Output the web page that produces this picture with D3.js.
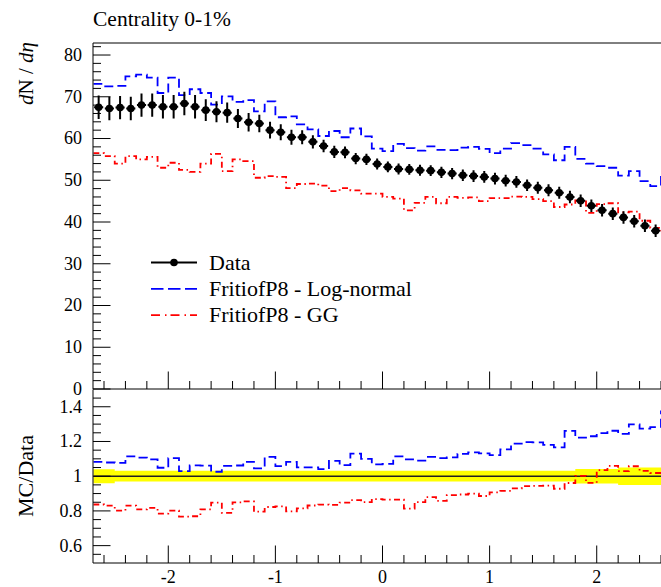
<!DOCTYPE html>
<html><head><meta charset="utf-8">
<script src="https://cdn.jsdelivr.net/npm/d3@7"></script>
<style>body{margin:0;background:#fff}svg{display:block}</style>
</head><body>
<svg id="c" width="661" height="587"></svg>
<script>
// ---- data ----
const eta = [-2.65,-2.55,-2.45,-2.35,-2.25,-2.15,-2.05,-1.95,-1.85,-1.75,-1.65,-1.55,-1.45,-1.35,-1.25,-1.15,-1.05,-0.95,
  -0.85,-0.75,-0.65,-0.55,-0.45,-0.35,-0.25,-0.15,-0.05,0.05,0.15,0.25,0.35,0.45,0.55,0.65,0.75,0.85,
  0.95,1.05,1.15,1.25,1.35,1.45,1.55,1.65,1.75,1.85,1.95,2.05,2.15,2.25,2.35,2.45,2.55,2.65];
const binHalfWidth = 0.05;
const dataVals = [67.5,67.2,67.4,67.2,68.0,68.0,67.6,67.6,68.4,67.6,66.8,66.4,66.2,64.8,63.9,63.6,62.0,61.5,
  60.3,60.3,59.2,58.2,56.8,56.7,55.2,55.0,53.9,53.2,52.7,52.6,52.4,52.3,51.9,51.6,51.2,51.0,
  50.8,50.4,49.9,49.6,48.8,48.2,47.6,47.0,46.0,45.1,43.9,42.8,42.0,41.1,40.2,39.1,37.9,37.0];
const dataErr = [2.8,2.8,2.8,2.8,2.8,2.8,2.8,2.8,2.8,2.8,2.6,2.5,2.4,2.3,2.2,2.1,2.0,1.9,
  1.8,1.7,1.6,1.5,1.45,1.4,1.35,1.35,1.3,1.3,1.3,1.3,1.3,1.3,1.35,1.35,1.4,1.4,
  1.4,1.4,1.4,1.4,1.4,1.45,1.45,1.45,1.5,1.5,1.5,1.5,1.5,1.5,1.5,1.5,1.5,1.5];
const bandRelErr = [0.04,0.04,0.031,0.031,0.031,0.031,0.031,0.031,0.031,0.031,0.031,0.031,0.031,0.031,0.031,0.031,0.031,0.031,
  0.031,0.031,0.031,0.031,0.031,0.031,0.031,0.031,0.031,0.031,0.031,0.031,0.031,0.031,0.031,0.031,0.031,0.031,
  0.031,0.031,0.031,0.031,0.031,0.031,0.031,0.031,0.031,0.042,0.042,0.042,0.042,0.05,0.05,0.05,0.05,0.05];
const logNormal = [73.1,72.5,72.6,74.9,75.3,74.6,70.9,74.6,70.4,71.8,70.9,68.1,70.1,68.8,69.2,66.5,68.9,65.1,
  65.3,63.4,62.2,60.6,61.8,60.3,62.4,60.5,57.6,57.0,58.7,57.7,57.1,58.1,57.3,57.2,57.8,58.0,
  57.5,56.5,57.6,58.9,58.4,57.6,56.2,54.8,58.0,55.1,54.0,53.4,53.0,51.1,52.2,49.8,48.6,50.8];
const gg = [56.5,55.8,54.0,55.8,55.0,55.6,53.0,54.2,52.5,52.0,54.0,56.3,52.2,55.0,54.6,50.6,51.0,50.8,
  48.1,49.1,49.2,48.7,47.4,48.1,47.6,46.8,46.8,46.0,45.6,42.8,44.6,46.0,44.5,46.0,45.8,45.9,
  45.0,45.7,45.7,46.1,46.0,45.5,45.0,43.6,44.2,45.2,42.2,44.3,44.5,42.3,42.5,40.3,38.6,38.0];
const xTicks = [-2,-1,0,1,2];
const mainYTicks = [0,10,20,30,40,50,60,70,80];
const ratioYTicks = [0.6,0.8,1,1.2,1.4];
const ratioYLabels = ["0.6","0.8","1","1.2","1.4"];
const legendLabels = ["Data","FritiofP8 - Log-normal","FritiofP8 - GG"];
const title = "Centrality 0-1%";

// ---- setup ----
const svg = d3.select('#c');
const font = "'Liberation Serif','Times New Roman',serif";
const x = d3.scaleLinear().domain([-2.7,2.7]).range([93.3,671.7]);
const yM = d3.scaleLinear().domain([0,82.88]).range([389,43]);
const yR = d3.scaleLinear().domain([0.5,1.5]).range([563,389.4]);
const blue = "#0000ff", red = "#ff0000";
const mcDash = "9,4.5", ggDash = "6,3.5,1.5,3.5";

const defs = svg.append('defs');
defs.append('clipPath').attr('id','cm').append('rect')
  .attr('x',x(-2.7)).attr('y',yM(82.88)).attr('width',x(2.7)-x(-2.7)).attr('height',yM(0)-yM(82.88));
defs.append('clipPath').attr('id','cr').append('rect')
  .attr('x',x(-2.7)).attr('y',yR(1.5)).attr('width',x(2.7)-x(-2.7)).attr('height',yR(0.5)-yR(1.5));

function stepPts(vals){
  const pts = eta.map((e,i)=>[e-binHalfWidth, vals[i]]);
  pts.push([eta[eta.length-1]+binHalfWidth, vals[vals.length-1]]);
  return pts;
}
function stepLine(ys){ return d3.line().x(d=>x(d[0])).y(d=>ys(d[1])).curve(d3.curveStepAfter); }

// ---- ratio panel ----
const gR = svg.append('g').attr('clip-path','url(#cr)');
const bandPts = eta.map((e,i)=>[e-binHalfWidth, bandRelErr[i]]);
bandPts.push([eta[eta.length-1]+binHalfWidth, bandRelErr[bandRelErr.length-1]]);
gR.append('path')
  .attr('d', d3.area().x(d=>x(d[0])).y0(d=>yR(1-d[1])).y1(d=>yR(1+d[1])).curve(d3.curveStepAfter)(bandPts))
  .attr('fill','#ffff00');
gR.append('line').attr('x1',x(-2.7)).attr('x2',x(2.7)).attr('y1',yR(1)).attr('y2',yR(1))
  .attr('stroke','#222').attr('stroke-width',1.6);
const ratioLN = logNormal.map((v,i)=>v/dataVals[i]);
const ratioGG = gg.map((v,i)=>v/dataVals[i]);
gR.append('path').attr('d',stepLine(yR)(stepPts(ratioLN))).attr('fill','none')
  .attr('stroke',blue).attr('stroke-width',1.8).attr('stroke-dasharray',mcDash);
gR.append('path').attr('d',stepLine(yR)(stepPts(ratioGG))).attr('fill','none')
  .attr('stroke',red).attr('stroke-width',1.8).attr('stroke-dasharray',ggDash);

// ---- main panel ----
const gM = svg.append('g').attr('clip-path','url(#cm)');
gM.append('path').attr('d',stepLine(yM)(stepPts(logNormal))).attr('fill','none')
  .attr('stroke',blue).attr('stroke-width',1.8).attr('stroke-dasharray',mcDash);
gM.append('path').attr('d',stepLine(yM)(stepPts(gg))).attr('fill','none')
  .attr('stroke',red).attr('stroke-width',1.8).attr('stroke-dasharray',ggDash);
const pts = gM.append('g').selectAll('g').data(eta.map((e,i)=>({e, v:dataVals[i], err:dataErr[i]}))).join('g');
pts.append('line').attr('x1',d=>x(d.e-binHalfWidth)+0.8).attr('x2',d=>x(d.e+binHalfWidth)-0.8)
  .attr('y1',d=>yM(d.v)).attr('y2',d=>yM(d.v)).attr('stroke','#000').attr('stroke-width',2);
pts.append('line').attr('x1',d=>x(d.e)).attr('x2',d=>x(d.e))
  .attr('y1',d=>yM(d.v-d.err)).attr('y2',d=>yM(d.v+d.err)).attr('stroke','#000').attr('stroke-width',2);
pts.append('circle').attr('cx',d=>x(d.e)).attr('cy',d=>yM(d.v)).attr('r',3.8).attr('fill','#000');

// ---- frames & ticks ----
const frame = svg.append('g').attr('stroke','#000').attr('stroke-width',1).attr('fill','none');
const L = 93, R = 672;
frame.append('path').attr('d',`M${L},${yM(0)}V43H${R}`);
frame.append('path').attr('d',`M${L},${yR(1.5)}V563H${R}`);
frame.append('line').attr('x1',L).attr('x2',R).attr('y1',389).attr('y2',389);

const tk = svg.append('g').attr('stroke','#000').attr('stroke-width',1);
const xMinor = d3.range(-2.6, 2.7, 0.2).map(v=>+v.toFixed(2)).filter(v=>!xTicks.some(t=>Math.abs(t-v)<1e-6));
[389,563].forEach(yb=>{
  xTicks.forEach(t=>tk.append('line').attr('x1',x(t)).attr('x2',x(t)).attr('y1',yb).attr('y2',yb-17.5));
  xMinor.forEach(t=>tk.append('line').attr('x1',x(t)).attr('x2',x(t)).attr('y1',yb).attr('y2',yb-8));
});
d3.range(0, 83, 2).forEach(v=>{
  const major = v%10===0;
  tk.append('line').attr('x1',L).attr('x2',L+(major?17.5:8)).attr('y1',yM(v)).attr('y2',yM(v));
});
d3.range(0.55, 1.5, 0.05).map(v=>+v.toFixed(2)).forEach(v=>{
  const major = ratioYTicks.some(t=>Math.abs(t-v)<1e-6);
  tk.append('line').attr('x1',L).attr('x2',L+(major?17.5:8)).attr('y1',yR(v)).attr('y2',yR(v));
});

// ---- labels ----
const txt = svg.append('g').attr('font-family',font).attr('fill','#000');
mainYTicks.forEach(t=>txt.append('text').attr('x',82).attr('y',yM(t)).attr('dy','0.33em')
  .attr('text-anchor','end').attr('font-size',18).text(t));
ratioYTicks.forEach((t,i)=>txt.append('text').attr('x',82).attr('y',yR(t)).attr('dy','0.33em')
  .attr('text-anchor','end').attr('font-size',18).text(ratioYLabels[i]));
xTicks.forEach(t=>txt.append('text').attr('x',x(t)).attr('y',583)
  .attr('text-anchor','middle').attr('font-size',18).text(t));
txt.append('text').attr('x',93).attr('y',26).attr('font-size',21.5).text(title);

const yl = txt.append('text').attr('transform','translate(33,42) rotate(-90)')
  .attr('text-anchor','end').attr('font-size',21);
yl.append('tspan').attr('font-style','italic').text('d');
yl.append('tspan').text('N / ');
yl.append('tspan').attr('font-style','italic').text('dη');
txt.append('text').attr('transform','translate(33,476) rotate(-90)')
  .attr('text-anchor','middle').attr('font-size',22).text('MC/Data');

// ---- legend ----
const lg = svg.append('g');
const lx0 = 151, lx1 = 197, ly0 = 262.5, ldy = 26.3;
lg.append('line').attr('x1',lx0).attr('x2',lx1).attr('y1',ly0).attr('y2',ly0).attr('stroke','#000').attr('stroke-width',2);
lg.append('circle').attr('cx',(lx0+lx1)/2).attr('cy',ly0).attr('r',3.8).attr('fill','#000');
lg.append('line').attr('x1',lx0).attr('x2',lx1).attr('y1',ly0+ldy).attr('y2',ly0+ldy).attr('stroke',blue)
  .attr('stroke-width',1.8).attr('stroke-dasharray','12.5,4.5');
lg.append('line').attr('x1',lx0).attr('x2',lx1).attr('y1',ly0+2*ldy).attr('y2',ly0+2*ldy).attr('stroke',red)
  .attr('stroke-width',1.8).attr('stroke-dasharray','9,5,1.5,4');
legendLabels.forEach((s,i)=>lg.append('text').attr('x',209).attr('y',ly0+i*ldy).attr('dy','0.33em')
  .attr('font-family',font).attr('font-size',22).text(s));
</script>
</body></html>
